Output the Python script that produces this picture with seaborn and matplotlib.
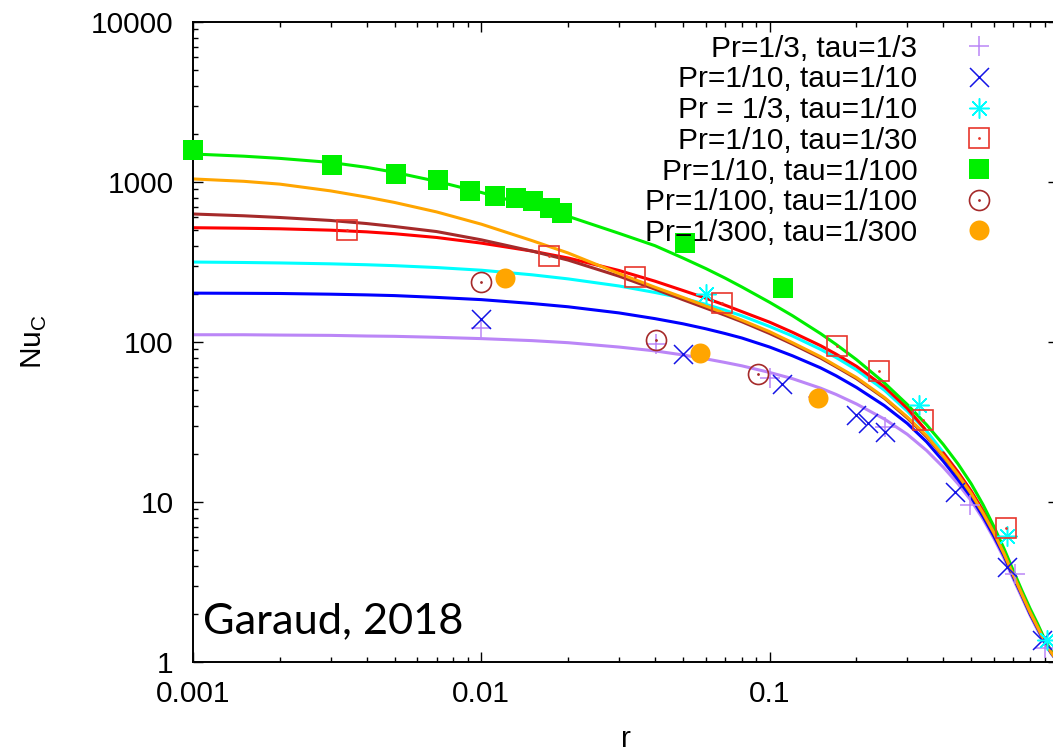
import numpy as np
import pandas as pd
import matplotlib
matplotlib.use("Agg")
import matplotlib.pyplot as plt
import seaborn as sns
from matplotlib.lines import Line2D
from matplotlib.legend_handler import HandlerTuple
from matplotlib.ticker import LogLocator, FixedFormatter, FixedLocator, NullFormatter

# ---- model curves: Nu_C(r) sampled on a common r grid ----
r_fit = [0.001, 0.0015, 0.002, 0.003, 0.004, 0.005, 0.007, 0.01, 0.015, 0.02,
         0.03, 0.04, 0.05, 0.06, 0.07, 0.08, 0.1, 0.12, 0.15, 0.17, 0.2, 0.25,
         0.3, 0.35, 0.4, 0.45, 0.5, 0.55, 0.6, 0.65, 0.7, 0.75, 0.8, 0.85, 0.9,
         0.95, 1.0]
fit_pr3_tau3 = [111, 111, 110.5, 110, 109, 108.5, 107, 105, 102, 99,
                93, 88, 83, 78.5, 74.5, 71, 64.5, 59, 51.5, 47, 41, 33,
                26.5, 21, 16.5, 13, 10.2, 7.8, 5.9, 4.45, 3.3, 2.52, 1.96, 1.58, 1.3,
                1.12, 1.0]
fit_pr10_tau10 = [202, 201.5, 201, 199, 197, 195, 190, 184, 174, 166,
                  152, 140, 130, 121, 113, 106, 93, 82, 69, 61.5, 52, 40,
                  31, 23.8, 18.0, 13.8, 10.7, 8.1, 6.1, 4.6, 3.4, 2.6, 2.0, 1.62, 1.32,
                  1.13, 1.0]
fit_pr3_tau10 = [316, 314, 312, 308, 304, 300, 292, 281, 263, 248,
                 224, 204, 188, 172, 158, 146, 125, 109, 90, 80, 67, 50,
                 37, 27.8, 20.4, 15.3, 11.6, 8.7, 6.5, 4.82, 3.54, 2.68, 2.06, 1.66, 1.34,
                 1.14, 1.0]
fit_pr10_tau100 = [1496, 1450, 1405, 1325, 1235, 1150, 1010, 860, 705, 610,
                   478, 400, 335, 288, 251, 221, 177, 146, 113, 96.6, 77.6, 55.5,
                   40.7, 30.4, 22.9, 17.3, 13.0, 9.6, 7.0, 5.1, 3.72, 2.79, 2.16, 1.73, 1.38,
                   1.16, 1.0]
fit_pr100_tau100 = [631, 615, 600, 575, 550, 527, 490, 435, 370, 325,
                    258, 214, 184, 163, 147, 134, 113, 97, 79.5, 70, 59, 44.5,
                    33.5, 25.6, 19.3, 14.7, 11.2, 8.45, 6.35, 4.72, 3.48, 2.64, 2.04, 1.64, 1.33,
                    1.14, 1.0]
fit_pr300_tau300 = [1045, 1010, 970, 880, 805, 745, 650, 545, 430, 360,
                    268, 220, 190, 168, 151, 137, 116, 99, 81, 71, 60, 45,
                    34, 26, 19.5, 14.8, 11.3, 8.5, 6.4, 4.75, 3.5, 2.65, 2.05, 1.65, 1.34,
                    1.14, 1.0]
# the Pr=1/10, tau=1/30 curve has a short gap between r~0.35 and r~0.4
r_fit_red = [0.001, 0.0015, 0.002, 0.003, 0.004, 0.005, 0.007, 0.01, 0.015, 0.02,
             0.03, 0.04, 0.05, 0.06, 0.07, 0.08, 0.1, 0.12, 0.15, 0.17, 0.2, 0.25,
             0.3, 0.346, 0.37, 0.4, 0.45, 0.5, 0.55, 0.6, 0.65, 0.7, 0.75, 0.8, 0.85,
             0.9, 0.95, 1.0]
fit_pr10_tau30 = [518, 514, 510, 500, 488, 475, 450, 415, 370, 335,
                  280, 240, 210, 188, 170, 155, 133, 115, 95, 84, 70.5, 52.5,
                  38.5, 28.5, np.nan, 20.3, 15.4, 11.7, 8.8, 6.6, 4.9, 3.58, 2.7, 2.08, 1.67,
                  1.35, 1.15, 1.0]

# ---- simulation data points ----
r_pr3_tau3 = [0.010, 0.0403, 0.100, 0.147, 0.251, 0.496, 0.71, 0.90]
nu_pr3_tau3 = [122, 97, 59.3, 45.5, 29.5, 9.6, 3.55, 1.22]
r_pr10_tau10 = [0.010, 0.0499, 0.110, 0.200, 0.220, 0.251, 0.44, 0.668, 0.88]
nu_pr10_tau10 = [140, 84, 55, 35, 31.3, 27.5, 11.5, 3.9, 1.38]
r_pr3_tau10 = [0.0602, 0.330, 0.668, 0.914]
nu_pr3_tau10 = [199, 40.4, 6.13, 1.37]
r_pr10_tau30 = [0.00341, 0.0171, 0.0341, 0.0682, 0.171, 0.2387, 0.340, 0.661]
nu_pr10_tau30 = [501, 345, 254, 175, 94.8, 65.9, 32.5, 6.9]
r_pr10_tau100 = [0.001, 0.00303, 0.00506, 0.00706, 0.00914, 0.01116, 0.01316,
                 0.01514, 0.0173, 0.0191, 0.0509, 0.111]
nu_pr10_tau100 = [1585, 1277, 1122, 1029, 879, 818, 798, 761, 691, 637, 417, 217]
r_pr100_tau100 = [0.010, 0.0403, 0.0909]
nu_pr100_tau100 = [236, 103, 62.8]
r_pr300_tau300 = [0.0121, 0.0573, 0.1476]
nu_pr300_tau300 = [250, 85.8, 44.5]

labels = ["Pr=1/3, tau=1/3", "Pr=1/10, tau=1/10", "Pr = 1/3, tau=1/10",
          "Pr=1/10, tau=1/30", "Pr=1/10, tau=1/100", "Pr=1/100, tau=1/100",
          "Pr=1/300, tau=1/300"]
x_ticks = [0.001, 0.01, 0.1, 1]
x_tick_labels = ["0.001", "0.01", "0.1", ""]
y_ticks = [1, 10, 100, 1000, 10000]
y_tick_labels = ["1", "10", "100", "1000", "10000"]

C_PURPLE = "#bb86f7"
C_BLUE = "#0000ff"
C_CYAN = "#00ffff"
C_RED = "#ff0000"
C_RED_PT = "#e8362c"
C_GREEN = "#00ee00"
C_GREEN_PT = "#00f000"
C_BROWN = "#a52a2a"
C_ORANGE = "#ffa500"

sns.set_theme(style="ticks", rc={
    "axes.edgecolor": "black", "xtick.color": "black", "ytick.color": "black",
    "axes.labelcolor": "black", "text.color": "black",
})
plt.rcParams["font.family"] = ["Liberation Sans", "DejaVu Sans"]
FS = 21.5

fig = plt.figure(figsize=(10.53, 7.52), dpi=100)
ax = fig.add_axes([0.18329, 0.11968, 0.82146, 0.85106])
ax.set_xscale("log")
ax.set_yscale("log")


def draw_curve(r, nu, color):
    df = pd.DataFrame({"r": r, "nu": nu})
    seg = df["nu"].isna().cumsum()
    ok = df["nu"].notna()
    for _, part in df[ok].groupby(seg[ok]):
        sns.lineplot(data=part, x="r", y="nu", color=color, lw=2.2,
                     sort=False, estimator=None, ax=ax, zorder=2)


draw_curve(r_fit, fit_pr3_tau3, C_PURPLE)
draw_curve(r_fit, fit_pr10_tau10, C_BLUE)
draw_curve(r_fit, fit_pr3_tau10, C_CYAN)
draw_curve(r_fit_red, fit_pr10_tau30, C_RED)
draw_curve(r_fit, fit_pr10_tau100, C_GREEN)
draw_curve(r_fit, fit_pr100_tau100, C_BROWN)
draw_curve(r_fit, fit_pr300_tau300, C_ORANGE)

MS = 14.4
style_plus = dict(marker="+", color=C_PURPLE, ms=MS, mew=1.1, ls="none")
style_x = dict(marker="x", color="#1414e6", ms=MS * 0.95, mew=1.1, ls="none")
style_star = dict(marker=(8, 2, 0), color=C_CYAN, ms=MS, mew=1.1, ls="none")
style_sq = dict(marker="s", mfc="none", mec=C_RED_PT, ms=MS, mew=1.2, ls="none")
style_sq_dot = dict(marker=".", color=C_RED_PT, ms=2.0, ls="none")
style_gsq = dict(marker="s", color=C_GREEN_PT, mec=C_GREEN_PT, ms=MS, mew=0, ls="none")
style_circ = dict(marker="o", mfc="none", mec=C_BROWN, ms=MS, mew=1.2, ls="none")
style_circ_dot = dict(marker=".", color=C_BROWN, ms=2.0, ls="none")
style_ocirc = dict(marker="o", color=C_ORANGE, mec=C_ORANGE, ms=MS, mew=0, ls="none")

kw = dict(zorder=3, clip_on=False)
ax.plot(r_pr3_tau3, nu_pr3_tau3, **style_plus, **kw)
ax.plot(r_pr10_tau10, nu_pr10_tau10, **style_x, **kw)
ax.plot(r_pr3_tau10, nu_pr3_tau10, **style_star, **kw)
ax.plot(r_pr10_tau30, nu_pr10_tau30, **style_sq, **kw)
ax.plot(r_pr10_tau30, nu_pr10_tau30, **style_sq_dot, **kw)
ax.plot(r_pr10_tau100, nu_pr10_tau100, **style_gsq, **kw)
ax.plot(r_pr100_tau100, nu_pr100_tau100, **style_circ, **kw)
ax.plot(r_pr100_tau100, nu_pr100_tau100, **style_circ_dot, **kw)
ax.plot(r_pr300_tau300, nu_pr300_tau300, **style_ocirc, **kw)

handles = [
    Line2D([], [], **style_plus),
    Line2D([], [], **style_x),
    Line2D([], [], **style_star),
    (Line2D([], [], **style_sq), Line2D([], [], **style_sq_dot)),
    Line2D([], [], **style_gsq),
    (Line2D([], [], **style_circ), Line2D([], [], **style_circ_dot)),
    Line2D([], [], **style_ocirc),
]
ax.legend(handles, labels, loc="upper right", bbox_to_anchor=(0.926, 0.980),
          frameon=False, markerfirst=False, fontsize=FS, borderpad=0,
          borderaxespad=0, handlelength=1.0, handletextpad=1.57,
          labelspacing=0.09, handler_map={tuple: HandlerTuple(ndivide=1, pad=0)})

ax.set_xlim(0.001, 1)
ax.set_ylim(1, 10000)
ax.xaxis.set_major_locator(FixedLocator(x_ticks))
ax.yaxis.set_major_locator(FixedLocator(y_ticks))
ax.xaxis.set_major_formatter(FixedFormatter(x_tick_labels))
ax.yaxis.set_major_formatter(FixedFormatter(y_tick_labels))
ax.xaxis.set_minor_locator(LogLocator(base=10, subs=np.arange(2, 10)))
ax.yaxis.set_minor_locator(LogLocator(base=10, subs=np.arange(2, 10)))
ax.xaxis.set_minor_formatter(NullFormatter())
ax.yaxis.set_minor_formatter(NullFormatter())
ax.tick_params(which="both", direction="in", top=True, right=True,
               width=1.0, labelsize=FS)
ax.tick_params(which="major", length=7.2)
ax.tick_params(which="minor", length=3.6)
ax.tick_params(axis="y", which="major", pad=14)
ax.tick_params(axis="x", which="major", pad=13)
for s in ax.spines.values():
    s.set_linewidth(1.4)
    s.set_color("black")

ax.set_xlabel("r", fontsize=FS, labelpad=12)
ax.set_ylabel(r"Nu$_\mathregular{C}$", fontsize=FS)
ax.yaxis.set_label_coords(-0.166, 0.5)

ax.text(0.0116, 0.045, "Garaud, 2018", transform=ax.transAxes, fontsize=31.2,
        family=["Lato", "DejaVu Sans"], ha="left", va="baseline")

fig.savefig("out.png", dpi=100)
